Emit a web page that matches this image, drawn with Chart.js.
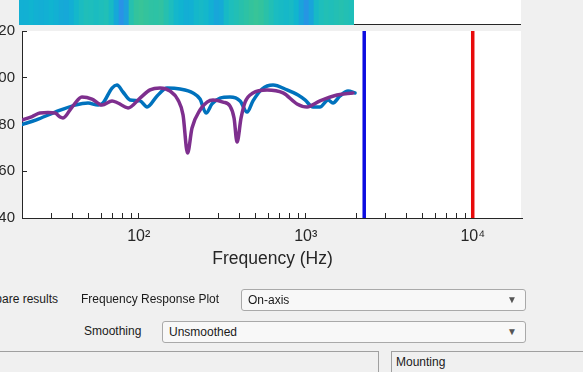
<!DOCTYPE html>
<html>
<head>
    <meta charset="utf-8">
    <script src="https://cdn.jsdelivr.net/npm/chart.js"></script>
    <title>Frequency Response</title>
    <script type="text/javascript">
        // curves (Hz / dB)
        var blueFreq = [20, 24.4, 31.6, 41.6, 49.7, 57.1, 61.1, 69.2, 74.1, 80.5, 88.7, 101.8, 112.2, 128.8, 147.7,
            176.7, 211.4, 232.8, 252.9, 274.6, 306.9, 352.2, 404.5, 445.4, 483.3, 547.5, 637.3, 773, 899, 990,
            1106, 1217, 1361, 1456, 1604, 1792, 1973];
        var blueDb = [80.0, 82.0, 85.3, 88.3, 89.2, 88.3, 89.2, 95.6, 96.9, 93.9, 90.5, 90.1, 87.5, 92.2, 95.6,
            95.2, 93.5, 90.9, 84.9, 88.8, 91.3, 91.8, 90.1, 85.3, 90.1, 95.2, 96.9, 94.8, 92.6, 90.5,
            87.5, 87.5, 90.5, 89.2, 92.2, 94.3, 93.5];

        var purpleFreq = [20, 23, 25.6, 28.6, 31.6, 33.8, 35.2, 39.9, 45.7, 52.5, 60.3, 69.2, 75.1, 86.3, 101.8,
            116.9, 134.2, 154, 171.9, 184.2, 196, 208.5, 232.8, 256.5, 278.6, 319.7, 352.2, 372.2, 388, 410,
            433.4, 483.3, 586.8, 731.5, 887, 1018, 1217, 1539, 1919];
        var purpleDb = [81.9, 83.4, 84.9, 85.1, 84.9, 83.2, 82.8, 87.5, 91.8, 90.9, 88.3, 90.1, 89.2, 87.1, 91.3,
            94.8, 95.6, 94.3, 90.5, 84.1, 67.8, 78.5, 86.2, 89.6, 90.5, 89.6, 87.9, 82.8, 72.5, 82.8,
            89.6, 93.5, 94.8, 93.5, 88.8, 87.5, 90.1, 92.6, 93.5];

        // vertical markers
        var markerFreqs = [2240, 10000];
        var markerColors = ['rgb(12,12,225)', 'rgb(232,10,10)'];

        // axis ticks
        var xTicks = [20, 30, 40, 50, 60, 70, 80, 90, 100, 200, 300, 400, 500, 600, 700, 800, 900, 1000,
            2000, 3000, 4000, 5000, 6000, 7000, 8000, 9000, 10000, 20000];
        var xLabelValues = [100, 1000, 10000];
        var xLabelTexts = ['10²', '10³', '10⁴'];
        var yTicks = [40, 60, 80, 100, 120];

        // colour strip above the plot (0 = blue .. 1 = green)
        var stripValues = [0.45, 0.45, 0.5, 0.45, 0.42, 0.45, 0.5, 0.45, 0.38, 0.35,
            0.42, 0.55, 0.65, 0.72, 0.7, 0.66, 0.7, 0.74, 0.62, 0.35,
            0.05, 0.25, 0.8, 0.95, 1.0, 0.95, 0.9, 0.88, 0.92, 0.8,
            0.68, 0.55, 0.5, 0.42, 0.45, 0.55, 0.6, 0.55, 0.45, 0.32,
            0.38, 0.6, 0.7, 0.75, 0.82, 0.88, 0.95, 1.0, 0.95, 0.85,
            0.75, 0.65, 0.62, 0.58, 0.62, 0.52, 0.3, 0.1, 0.3, 0.6,
            0.7, 0.75, 0.72, 0.76, 0.8, 0.76, 0.72];
    </script>
    <style type="text/css">
        body {
            margin: 0;
            width: 583px;
            height: 372px;
            overflow: hidden;
            position: relative;
            background: #f0f0f0;
            font-family: "Liberation Sans", Arial, sans-serif;
        }

        .abs {
            position: absolute;
        }

        .lbl {
            position: absolute;
            font-size: 12px;
            line-height: 14px;
            color: #1a1a1a;
            white-space: nowrap;
        }

        .drop {
            position: absolute;
            border: 1px solid #a9a9a9;
            border-radius: 3px;
            background: #f8f8f8;
            font-size: 12px;
            line-height: 20px;
            color: #1a1a1a;
            box-sizing: border-box;
            height: 22px;
            padding-left: 6px;
        }

        .drop span {
            position: absolute;
            right: 8px;
            top: 0;
            font-size: 10px;
            color: #555;
        }

        .box {
            position: absolute;
            border: 1px solid #a0a0a0;
            background: #f0f0f0;
            box-sizing: border-box;
            font-size: 12px;
            line-height: 20px;
            color: #1a1a1a;
            padding-left: 4px;
        }
    </style>
</head>
<body>
    <div class="abs" style="left:19px; top:0; width:502px; height:24px; background:#fff; border-bottom:1px solid #262626;"></div>
    <canvas id="strip" class="abs" width="335" height="25" style="left:19px; top:0;"></canvas>
    <div class="abs" style="left:22px; top:31px; width:499px; height:187px; background:#fff;"></div>
    <canvas id="myChart" class="abs" width="563" height="280" style="left:-40px; top:0;"></canvas>

    <div class="lbl" style="left:-100px; top:292px; width:158px; text-align:right;">Compare results</div>
    <div class="lbl" style="left:81px; top:292px;">Frequency Response Plot</div>
    <div class="drop" style="left:241px; top:289px; width:285px;">On-axis<span>&#9660;</span></div>
    <div class="lbl" style="left:84px; top:324px;">Smoothing</div>
    <div class="drop" style="left:162px; top:321px; width:364px;">Unsmoothed<span>&#9660;</span></div>
    <div class="box" style="left:-1px; top:351px; width:380px; height:30px;"></div>
    <div class="box" style="left:391px; top:351px; width:200px; height:30px;">Mounting</div>

    <script>
        var fontFam = '"Liberation Sans", Arial, sans-serif';
        var axisCol = '#262626';

        // simple blue -> cyan -> green map for the strip
        var stripMap = [[0, [45, 142, 232]], [0.35, [22, 168, 216]], [0.5, [16, 180, 208]],
            [0.7, [30, 190, 188]], [0.85, [42, 193, 168]], [1, [56, 196, 152]]];

        function mapColor(v) {
            for (let i = 1; i < stripMap.length; i++) {
                if (v <= stripMap[i][0]) {
                    var a = stripMap[i - 1], b = stripMap[i];
                    var t = (v - a[0]) / (b[0] - a[0]);
                    var c = a[1].map(function (k, j) { return Math.round(k + (b[1][j] - k) * t); });
                    return 'rgb(' + c.join(',') + ')';
                }
            }
            return 'rgb(' + stripMap[stripMap.length - 1][1].join(',') + ')';
        }

        new Chart(document.getElementById('strip').getContext('2d'), {
            type: 'bar',
            data: {
                labels: stripValues.map(function (v, i) { return i; }),
                datasets: [{
                    data: stripValues.map(function () { return 1; }),
                    backgroundColor: stripValues.map(mapColor),
                    borderWidth: 0,
                    barPercentage: 1,
                    categoryPercentage: 1
                }]
            },
            options: {
                responsive: false,
                animation: false,
                events: [],
                layout: { padding: 0 },
                plugins: { legend: { display: false }, tooltip: { enabled: false } },
                scales: {
                    x: { display: false },
                    y: { display: false, min: 0, max: 1 }
                }
            }
        });

        function toPoints(xs, ys) {
            return xs.map(function (x, i) { return { x: x, y: ys[i] }; });
        }

        var datasets = [
            {
                data: toPoints(purpleFreq, purpleDb),
                borderColor: '#7E2F8E',
                borderWidth: 3.5,
                order: 0
            },
            {
                data: toPoints(blueFreq, blueDb),
                borderColor: '#0072BD',
                borderWidth: 3.5,
                order: 1
            }
        ];
        markerFreqs.forEach(function (f, i) {
            datasets.push({
                data: [{ x: f, y: 40 }, { x: f, y: 120 }],
                borderColor: markerColors[i],
                borderWidth: 3.5,
                order: 2
            });
        });

        var ctx = document.getElementById('myChart').getContext('2d');
        var myChart = new Chart(ctx, {
            type: 'line',
            data: { datasets: datasets },
            options: {
                responsive: false,
                animation: false,
                events: [],
                layout: { padding: { top: 31, right: 0, bottom: 0, left: 0 } },
                plugins: { legend: { display: false }, tooltip: { enabled: false } },
                elements: {
                    point: { radius: 0 },
                    line: { cubicInterpolationMode: 'monotone', borderCapStyle: 'round', borderJoinStyle: 'round' }
                },
                scales: {
                    x: {
                        type: 'logarithmic',
                        min: 20,
                        max: 20000,
                        afterBuildTicks: function (s) {
                            s.ticks = xTicks.map(function (v) { return { value: v }; });
                        },
                        afterFit: function (s) {
                            s.height = 62;
                            s.paddingLeft = 0;
                            s.paddingRight = 0;
                        },
                        grid: { drawOnChartArea: false, drawTicks: true, tickLength: -5, color: axisCol },
                        border: { display: true, color: axisCol, width: 1 },
                        ticks: {
                            autoSkip: false,
                            maxRotation: 0,
                            padding: 14,
                            color: axisCol,
                            font: { size: 16, family: fontFam },
                            callback: function (v) {
                                var k = xLabelValues.indexOf(v);
                                return k >= 0 ? xLabelTexts[k] : '';
                            }
                        },
                        title: {
                            display: true,
                            text: 'Frequency (Hz)',
                            color: axisCol,
                            font: { size: 17.5, family: fontFam },
                            padding: { top: 0, bottom: 10 }
                        }
                    },
                    y: {
                        min: 40,
                        max: 120,
                        afterBuildTicks: function (s) {
                            s.ticks = yTicks.map(function (v) { return { value: v }; });
                        },
                        afterFit: function (s) { s.width = 62; },
                        grid: { drawOnChartArea: false, drawTicks: true, tickLength: -5, color: axisCol },
                        border: { display: true, color: axisCol, width: 1 },
                        ticks: {
                            padding: 12,
                            color: axisCol,
                            font: { size: 15, family: fontFam }
                        }
                    }
                }
            }
        });
    </script>
</body>
</html>
